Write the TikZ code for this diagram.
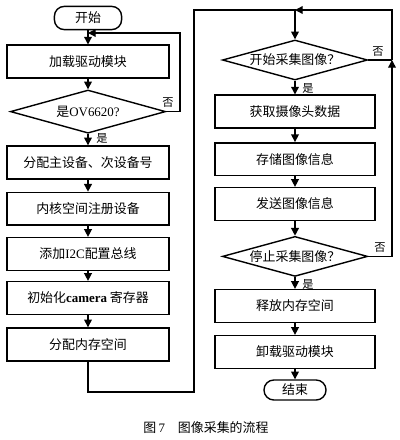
\documentclass[tikz,border=0pt]{standalone}
\usepackage{fontspec}
\setmainfont{Liberation Serif}
\newfontfamily\cjk{Noto Sans CJK SC}
\usepackage{tikz}
\usetikzlibrary{arrows.meta,shapes.geometric}
\newcommand{\en}[1]{{\rmfamily #1}}

\begin{document}
\begin{tikzpicture}[
  % process box
  box/.style  = {draw, line width=1pt, minimum width=4.05cm, minimum height=0.82cm,
                 inner sep=1pt, font=\cjk\fontsize{9.2pt}{11pt}\selectfont},
  rbox/.style = {box, minimum width=4.0cm},
  % start / end
  term/.style = {draw, line width=1pt, rounded corners=7pt, minimum width=1.68cm,
                 minimum height=0.58cm, inner sep=1pt,
                 font=\cjk\fontsize{9.2pt}{11pt}\selectfont},
  % decision
  dec/.style  = {draw, diamond, aspect=3.6, line width=1pt, inner sep=0pt,
                 minimum width=3.88cm, minimum height=1.08cm,
                 font=\cjk\fontsize{9.2pt}{11pt}\selectfont},
  rdec/.style = {dec, minimum width=3.63cm, minimum height=1.0cm},
  % yes / no labels
  yn/.style   = {font=\cjk\fontsize{8pt}{9pt}\selectfont, inner sep=0pt},
  ln/.style   = {line width=1pt},
  arr/.style  = {-{Triangle[length=5.5pt,width=5.5pt]}, line width=1pt}
]
\useasboundingbox (0,0) rectangle (10,-11);

% left column, x = 2.2
\node[term](ST)  at (2.2,-0.45){开始};
\node[box] (LD)  at (2.2,-1.54){加载驱动模块};
\node[dec] (OV)  at (2.2,-2.79){是\en{OV6620?}};
\node[box] (DEV) at (2.2,-4.06){分配主设备、次设备号};
\node[box] (REG) at (2.2,-5.22){内核空间注册设备};
\node[box] (IIC) at (2.2,-6.35){添加\en{I2C}配置总线};
\node[box] (CAM) at (2.2,-7.45){初始化\en{\bfseries camera} 寄存器};
\node[box] (MEM) at (2.2,-8.61){分配内存空间};

% right column, x = 7.375
\node[rdec](GO)  at (7.375,-1.50){开始采集图像？};
\node[rbox](GET) at (7.375,-2.79){获取摄像头数据};
\node[rbox](SAV) at (7.375,-3.98){存储图像信息};
\node[rbox](SND) at (7.375,-5.10){发送图像信息};
\node[rdec](STP) at (7.375,-6.41){停止采集图像？};
\node[rbox](FRE) at (7.375,-7.65){释放内存空间};
\node[rbox](ULD) at (7.375,-8.80){卸载驱动模块};
\node[term,minimum width=1.55cm,minimum height=0.5cm](END) at (7.375,-9.75){结束};

% caption
\node[font=\cjk\fontsize{9.2pt}{11pt}\selectfont](CAP) at (5.15,-10.7){图\,\en{7}\quad 图像采集的流程};

% downward transitions
\draw[arr](ST.south) --(LD.north);
\draw[arr](LD.south) --(OV.north);
\draw[arr](OV.south) --(DEV.north);
\draw[arr](DEV.south)--(REG.north);
\draw[arr](REG.south)--(IIC.north);
\draw[arr](IIC.south)--(CAM.north);
\draw[arr](CAM.south)--(MEM.north);
\draw[arr](GO.south) --(GET.north);
\draw[arr](GET.south)--(SAV.north);
\draw[arr](SAV.south)--(SND.north);
\draw[arr](SND.south)--(STP.north);
\draw[arr](STP.south)--(FRE.north);
\draw[arr](FRE.south)--(ULD.north);
\draw[arr](ULD.south)--(END.north);

% not OV6620: back to load
\coordinate(L1) at (4.5,-2.79);
\coordinate(L2) at (4.5,-0.825);
\coordinate(L3) at (2.2,-0.825);
\draw[arr](OV.east)--(L1)--(L2)--(L3);

% left column over to right column
\coordinate(C1) at (2.2,-9.8);
\coordinate(C2) at (4.85,-9.8);
\coordinate(C3) at (4.85,-0.25);
\coordinate(C4) at (7.375,-0.25);
\draw[arr](MEM.south)--(C1)--(C2)--(C3)--(C4)--(GO.north);

% capture loops on the right, x = 9.8
\coordinate(R1) at (9.8,-6.41);
\coordinate(R2) at (9.8,-1.50);
\coordinate(R3) at (9.8,-0.25);
\draw[ln](GO.east)--(R2);
\draw[arr](STP.east)--(R1)--(R2);
\draw[arr](R2)--(R3)--(C4);

% yes / no labels
\node[yn](N1) at (4.2,-2.575){否};
\node[yn](Y1) at (2.55,-3.45){是};
\node[yn](N2) at (9.45,-1.3){否};
\node[yn](Y2) at (7.7,-2.22){是};
\node[yn](N3) at (9.5,-6.2){否};
\node[yn](Y3) at (7.7,-7.12){是};

\end{tikzpicture}
\end{document}
